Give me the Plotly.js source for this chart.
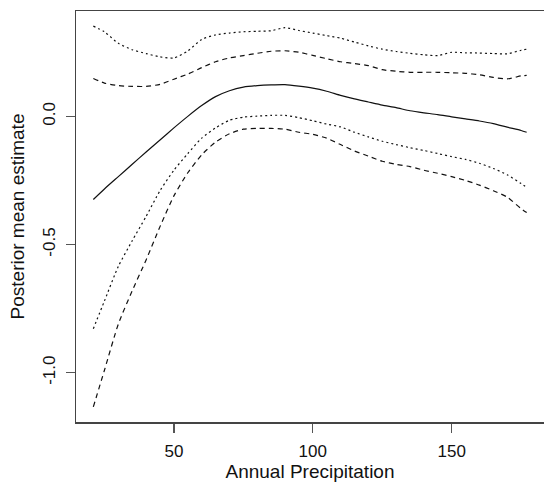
<!DOCTYPE html>
<html>
<head>
<meta charset="utf-8">
<script src="https://cdn.plot.ly/plotly-3.0.1.min.js"></script>
<style>html,body{margin:0;padding:0;background:#fff;overflow:hidden}#chart{width:544px;height:483px}</style>
</head>
<body>
<div id="chart"></div>
<script>
const precipitation = [21,25,30,35,40,45,50,55,60,65,70,75,80,85,90,95,100,105,110,115,120,125,130,135,140,145,150,155,160,165,170,175,177];
const posteriorMean = [-0.324,-0.283,-0.235,-0.187,-0.139,-0.092,-0.045,0.0,0.042,0.077,0.100,0.114,0.120,0.123,0.124,0.118,0.110,0.098,0.082,0.068,0.056,0.044,0.034,0.022,0.014,0.007,-0.002,-0.010,-0.018,-0.028,-0.042,-0.055,-0.062];
const upperDotted = [0.352,0.33,0.285,0.26,0.245,0.232,0.228,0.255,0.30,0.318,0.325,0.33,0.332,0.334,0.346,0.335,0.325,0.315,0.305,0.29,0.275,0.262,0.253,0.246,0.240,0.237,0.250,0.248,0.247,0.245,0.244,0.258,0.262];
const upperDashed = [0.148,0.13,0.12,0.117,0.117,0.125,0.145,0.165,0.19,0.213,0.228,0.237,0.246,0.254,0.256,0.25,0.238,0.225,0.213,0.206,0.198,0.182,0.176,0.172,0.172,0.172,0.170,0.168,0.162,0.152,0.146,0.158,0.160];
const lowerDotted = [-0.828,-0.72,-0.585,-0.485,-0.39,-0.29,-0.21,-0.145,-0.085,-0.045,-0.015,-0.003,0.001,0.004,0.004,-0.005,-0.017,-0.03,-0.041,-0.062,-0.08,-0.097,-0.11,-0.122,-0.133,-0.145,-0.157,-0.168,-0.183,-0.203,-0.228,-0.262,-0.277];
const lowerDashed = [-1.133,-0.99,-0.81,-0.68,-0.56,-0.43,-0.31,-0.22,-0.15,-0.1,-0.068,-0.05,-0.047,-0.047,-0.05,-0.062,-0.07,-0.085,-0.11,-0.135,-0.155,-0.175,-0.187,-0.196,-0.21,-0.222,-0.235,-0.25,-0.268,-0.29,-0.315,-0.36,-0.375];
const xTicks = [50,100,150];
const yTicks = [-1.0,-0.5,0.0];
const yTickText = ['-1.0','-0.5','0.0'];

const DOT = '2px,3px';
const DASH = '5px,4px';
function tr(y, dash){
  return {x: precipitation, y: y, type: 'scatter', mode: 'lines',
    line: {color: '#111', width: 1.2, dash: dash, shape: 'spline', smoothing: 0.6}, hoverinfo: 'skip', showlegend: false};
}
const data = [
  tr(posteriorMean, 'solid'),
  tr(upperDotted, DOT),
  tr(upperDashed, DASH),
  tr(lowerDotted, DOT),
  tr(lowerDashed, DASH)
];
const font = {family: 'Liberation Sans, Arial, sans-serif', color: '#111'};
const layout = {
  width: 544, height: 483,
  margin: {l: 76, r: 0, t: 11, b: 61, pad: 0},
  paper_bgcolor: '#fff', plot_bgcolor: '#fff',
  showlegend: false,
  xaxis: {
    range: [14.76, 183.24], tickvals: xTicks, ticktext: xTicks.map(String),
    ticks: 'outside', ticklen: 9, tickwidth: 1.3, tickcolor: '#555',
    ticklabelstandoff: 4,
    showline: true, mirror: true, linecolor: '#444', linewidth: 1.5,
    showgrid: false, zeroline: false, automargin: false,
    tickfont: Object.assign({size: 17}, font),
    title: {text: 'Annual Precipitation', font: Object.assign({size: 19}, font), standoff: 5}
  },
  yaxis: {
    range: [-1.192, 0.411], tickvals: yTicks, ticktext: yTickText, tickangle: -90,
    ticks: 'outside', ticklen: 9, tickwidth: 1.3, tickcolor: '#555',
    ticklabelstandoff: 4,
    showline: true, mirror: false, linecolor: '#444', linewidth: 1.5,
    showgrid: false, zeroline: false, automargin: false,
    tickfont: Object.assign({size: 17}, font),
    title: {text: 'Posterior mean estimate', font: Object.assign({size: 19}, font), standoff: 10}
  }
};
Plotly.newPlot('chart', data, layout, {staticPlot: true, displayModeBar: false});
</script>
</body>
</html>
